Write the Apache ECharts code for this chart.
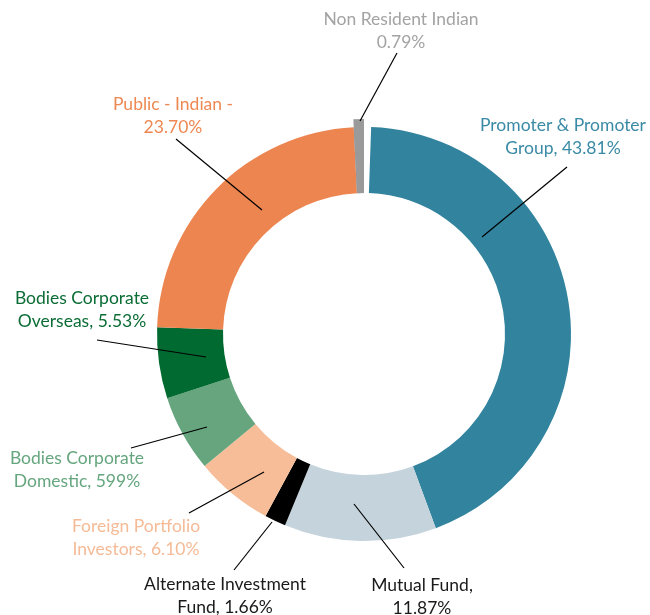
<!DOCTYPE html>
<html>
<head>
<meta charset="utf-8">
<script src="https://cdn.jsdelivr.net/npm/echarts@6/dist/echarts.min.js"></script>
<style>
  html, body { margin: 0; padding: 0; background: #fff; }
  #chart { width: 650px; height: 615px; }
</style>
</head>
<body>
<div id="chart"></div>
<script>
// shareholding pattern, clockwise from the top
const categories = ['Promoter & Promoter Group', 'Mutual Fund', 'Alternate Investment Fund',
  'Foreign Portfolio Investors', 'Bodies Corporate Domestic', 'Bodies Corporate Overseas',
  'Public - Indian', 'Non Resident Indian'];
const shares = [43.81, 11.87, 1.66, 6.10, 5.99, 5.53, 23.70, 0.79];
// label text as printed on the original (typo included)
const labelTexts = ['Promoter & Promoter\nGroup, 43.81%', 'Mutual Fund,\n11.87%',
  'Alternate Investment\nFund, 1.66%', 'Foreign Portfolio\nInvestors, 6.10%',
  'Bodies Corporate\nDomestic, 599%', 'Bodies Corporate\nOverseas, 5.53%',
  'Public - Indian -\n23.70%', 'Non Resident Indian\n0.79%'];

const sliceColors = ['#31839e', '#c5d3dc', '#000000', '#f6bd98', '#66a57e', '#006a30', '#ec8550', '#9a9a9a'];
const textColors = ['#3a8aa6', '#1a1a1a', '#1a1a1a', '#f5bb97', '#66a67f', '#0b6d35', '#ee8853', '#a3a3a3'];

// where each label sits: [text x, text y, line end x, line end y, line start x, line start y]
const labelSpots = [
  [563, 137, 567, 167, 482, 237],
  [422, 597, 404, 568, 354, 504],
  [225, 596, 234, 570, 272, 522],
  [136, 538, 189, 513, 264, 472],
  [77, 470, 131, 448, 207, 427],
  [82, 310, 97, 340, 206, 357],
  [173, 116, 176, 139, 262, 210],
  [401, 31, 397, 53, 360, 121]
];

// the small unlabelled remainder shows up as a gap at 12 o'clock
const unallocated = +(100 - shares.reduce((a, b) => a + b, 0)).toFixed(2);
const clear = 'rgba(0,0,0,0)';

const chart = echarts.init(document.getElementById('chart'));

const mainData = [{ name: 'gap', value: unallocated, itemStyle: { color: clear },
  label: { show: false } }];
categories.forEach((c, i) => {
  mainData.push({
    name: c,
    value: shares[i],
    itemStyle: { color: sliceColors[i] },
    label: { formatter: labelTexts[i], color: textColors[i] }
  });
});

// the NRI sliver sticks out a bit past the ring
const nriData = [{ name: 'gap', value: unallocated, itemStyle: { color: clear } }].concat(
  categories.map((c, i) => ({
    name: c,
    value: shares[i],
    itemStyle: { color: i === categories.length - 1 ? sliceColors[i] : clear }
  })));

// leader lines drawn on top of the ring
const leaderLines = labelSpots.map(s => ({
  type: 'polyline',
  z: 100,
  silent: true,
  shape: { points: [[s[4], s[5]], [s[2], s[3]]] },
  style: { stroke: '#000', lineWidth: 1.2, fill: null }
}));

const option = {
  animation: false,
  graphic: { elements: leaderLines },
  series: [
    {
      type: 'pie',
      center: [364, 334],
      radius: [141, 207],
      startAngle: 90,
      clockwise: true,
      avoidLabelOverlap: false,
      emphasis: { disabled: true },
      label: {
        show: true,
        position: 'outside',
        fontFamily: 'Lato',
        fontSize: 17.5,
        lineHeight: 23,
        align: 'center'
      },
      labelLine: { show: false },
      labelLayout: function (params) {
        const s = labelSpots[params.dataIndex - 1];
        if (!s) return {};
        return { x: s[0], y: s[1], align: 'center', verticalAlign: 'middle' };
      },
      data: mainData
    },
    {
      type: 'pie',
      center: [364, 334],
      radius: [141, 215],
      startAngle: 90,
      clockwise: true,
      silent: true,
      z: 3,
      label: { show: false },
      labelLine: { show: false },
      data: nriData
    }
  ]
};

chart.setOption(option);
</script>
</body>
</html>
